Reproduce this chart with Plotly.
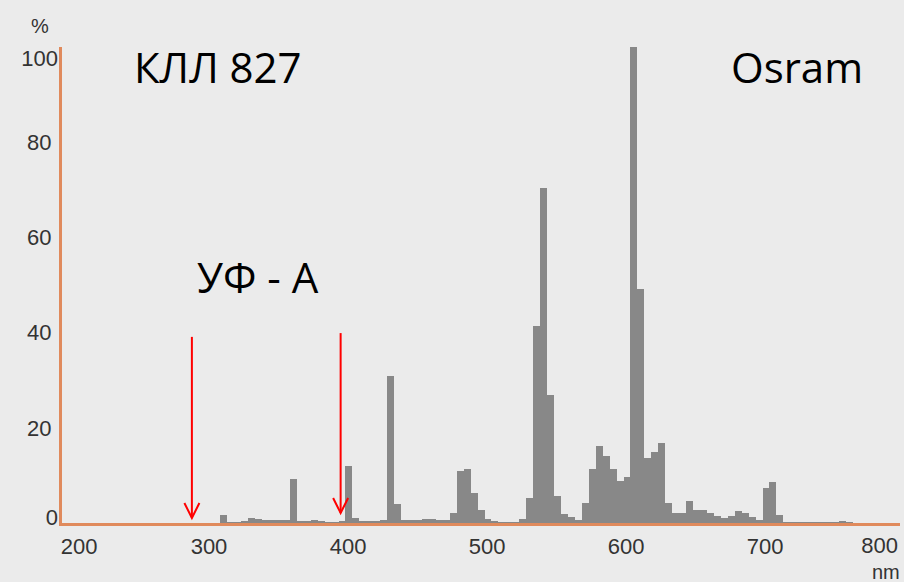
import plotly.graph_objects as go

# ---------------- data ----------------
wavelength_nm = [310, 315, 320, 325, 330, 335, 340, 345, 350, 355,
                 360, 365, 370, 375, 380, 385, 390, 395, 400, 405,
                 410, 415, 420, 425, 430, 435, 440, 445, 450, 455,
                 460, 465, 470, 475, 480, 485, 490, 495, 500, 505,
                 510, 515, 520, 525, 530, 535, 540, 545, 550, 555,
                 560, 565, 570, 575, 580, 585, 590, 595, 600, 605,
                 610, 615, 620, 625, 630, 635, 640, 645, 650, 655,
                 660, 665, 670, 675, 680, 685, 690, 695, 700, 705,
                 710, 715, 720, 725, 730, 735, 740, 745, 750, 755,
                 760, 765]
intensity_pct = [0.0, 1.6, 0.1, 0.2, 0.4, 1.0, 0.8, 0.7, 0.7, 0.7,
                 0.7, 9.3, 0.5, 0.4, 0.7, 0.3, 0.15, 0.2, 0.5, 11.9,
                 1.1, 0.3, 0.3, 0.4, 0.7, 30.8, 4.0, 0.7, 0.7, 0.6,
                 0.8, 0.8, 0.6, 0.6, 2.1, 11.0, 11.4, 6.3, 2.8, 0.8,
                 0.4, 0.1, 0.05, 0.1, 0.9, 5.2, 41.3, 70.3, 26.9, 5.6,
                 1.8, 1.2, 0.7, 4.2, 11.4, 16.1, 14.0, 11.4, 8.8, 9.7,
                 100.0, 49.2, 13.6, 14.9, 16.8, 4.2, 2.1, 2.1, 4.7, 2.8,
                 2.8, 2.1, 1.4, 1.0, 1.4, 2.5, 2.1, 1.2, 0.7, 7.4,
                 8.7, 1.7, 0.1, 0.1, 0.1, 0.2, 0.2, 0.1, 0.2, 0.1,
                 0.5, 0.1]

x_tick_vals = [200, 300, 400, 500, 600, 700]
x_tick_text = ["\u00a0\u00a0\u00a0200", "300", "400", "500", "600", "700"]
x_last_tick = [800]
x_last_text = ["800"]
y_mid_vals = [20, 40, 60, 80]
y_mid_text = ["20", "40", "60", "80"]
y_top_tick = [100]
y_top_text = ["100"]
y_bottom_tick = [0]
y_bottom_text = ["0"]

uva_bounds_nm = [292, 399]          # red arrows
uva_arrow_top = [39.1, 39.9]
uva_arrow_tip = [1.05, 2.1]

title_left = "КЛЛ 827"
title_right = "Osram"
uva_label = "УФ - А"

# ---------------- style ----------------
BG = "#EBEBEB"
BAR = "#888888"
AXIS = "#E08A5C"
TXT = "#333333"
TICKFONT = dict(family="Liberation Sans, Arial, sans-serif", size=22, color=TXT)
BIGFONT = dict(family="Open Sans, sans-serif", size=42, color="#000000")
X_RANGE = [198.56, 801.4]
Y_RANGE = [0, 100]

fig = go.Figure()
fig.add_trace(go.Bar(
    x=wavelength_nm, y=intensity_pct, width=5,
    marker=dict(color=BAR, line=dict(width=0)),
    hoverinfo="x+y", showlegend=False,
))
# invisible helper traces so the overlay label axes are drawn
fig.add_trace(go.Scatter(x=x_last_tick, y=y_bottom_tick, xaxis="x2", yaxis="y2",
                         mode="markers", marker=dict(opacity=0),
                         hoverinfo="skip", showlegend=False))
fig.add_trace(go.Scatter(x=x_last_tick, y=y_bottom_tick, xaxis="x2", yaxis="y3",
                         mode="markers", marker=dict(opacity=0),
                         hoverinfo="skip", showlegend=False))

shapes = []
for xb, yt, yb in zip(uva_bounds_nm, uva_arrow_top, uva_arrow_tip):
    shapes.append(dict(type="line", xref="x", yref="y", x0=xb, x1=xb, y0=yt, y1=yb,
                       line=dict(color="#FF0000", width=2)))
    shapes.append(dict(type="path", xref="x", yref="y",
                       xsizemode="pixel", ysizemode="pixel",
                       xanchor=xb, yanchor=yb,
                       path="M-7.5,15 L0,0 L7.5,15",
                       line=dict(color="#FF0000", width=2)))

annotations = [
    dict(text=title_left, xref="paper", yref="paper", x=0.083, y=0.958,
         xanchor="left", yanchor="middle", showarrow=False, font=BIGFONT),
    dict(text=title_right, xref="paper", yref="paper", x=0.958, y=0.958,
         xanchor="right", yanchor="middle", showarrow=False, font=BIGFONT),
    dict(text=uva_label, xref="paper", yref="paper", x=0.159, y=0.517,
         xanchor="left", yanchor="middle", showarrow=False, font=BIGFONT),
    dict(text="%", xref="paper", yref="paper", x=-0.026, y=1.045,
         xanchor="center", yanchor="middle", showarrow=False,
         font=dict(family="Liberation Sans, Arial, sans-serif", size=20, color=TXT)),
    dict(text="nm", xref="paper", yref="paper", x=0.983, y=-0.103,
         xanchor="center", yanchor="middle", showarrow=False,
         font=dict(family="Liberation Sans, Arial, sans-serif", size=20, color=TXT)),
]

label_axis = dict(showgrid=False, zeroline=False, showline=False, automargin=False,
                  ticks="", tickfont=TICKFONT)

fig.update_layout(
    width=904, height=582,
    margin=dict(l=62, r=4, t=47, b=59, autoexpand=False),
    paper_bgcolor=BG, plot_bgcolor=BG,
    bargap=0,
    shapes=shapes,
    annotations=annotations,
    xaxis=dict(range=X_RANGE, showgrid=False, zeroline=False,
               showline=True, linecolor=AXIS, linewidth=3, automargin=False,
               tickvals=x_tick_vals, ticktext=x_tick_text, ticks="",
               tickfont=TICKFONT, ticklabelshift=6, ticklabelstandoff=2),
    xaxis2=dict(label_axis, range=X_RANGE, overlaying="x", anchor="y", side="bottom",
                tickvals=x_last_tick, ticktext=x_last_text,
                ticklabelposition="outside left", ticklabelstandoff=7),
    yaxis=dict(range=Y_RANGE, showgrid=False, zeroline=False,
               showline=True, linecolor=AXIS, linewidth=3, automargin=False,
               tickvals=y_mid_vals, ticktext=y_mid_text, ticks="",
               tickfont=TICKFONT, ticklabelstandoff=3),
    yaxis2=dict(label_axis, range=Y_RANGE, overlaying="y", anchor="x", side="left",
                tickvals=y_top_tick, ticktext=y_top_text,
                ticklabelshift=11, ticklabelstandoff=3),
    yaxis3=dict(label_axis, range=Y_RANGE, overlaying="y", anchor="x", side="left",
                tickvals=y_bottom_tick, ticktext=y_bottom_text,
                ticklabelshift=-6, ticklabelstandoff=3),
)

fig.write_html(
    "out.html",
    config={"displayModeBar": False},
    post_script="document.body.style.margin='0px';document.body.style.background='#EBEBEB';",
)
